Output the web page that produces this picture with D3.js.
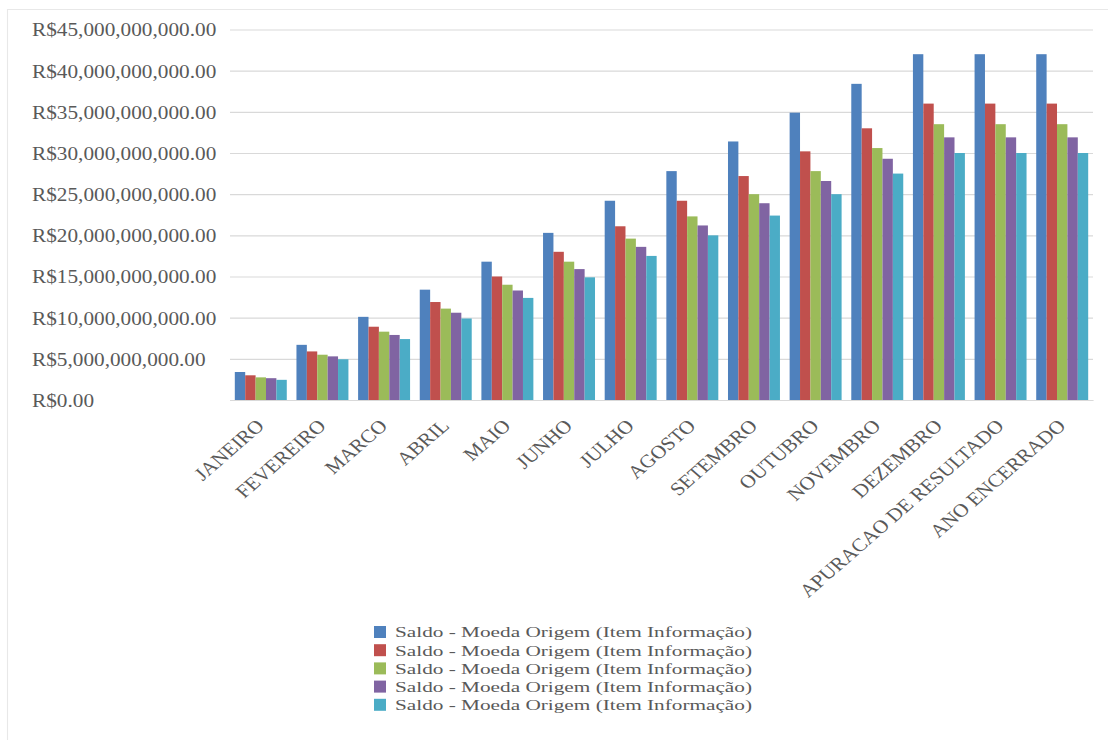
<!DOCTYPE html>
<html>
<head>
<meta charset="utf-8">
<script src="https://cdn.jsdelivr.net/npm/d3@7"></script>
<style>
  html, body { margin: 0; padding: 0; background: #ffffff; }
  svg { display: block; }
  text { font-family: "Liberation Serif", "Times New Roman", serif; fill: #595959; }
</style>
</head>
<body>
<svg id="chart"></svg>
<script>
// Month / closing-period categories
const categories = [
  "JANEIRO", "FEVEREIRO", "MARCO", "ABRIL", "MAIO", "JUNHO", "JULHO",
  "AGOSTO", "SETEMBRO", "OUTUBRO", "NOVEMBRO", "DEZEMBRO",
  "APURACAO DE RESULTADO", "ANO ENCERRADO"
];

// Balances in R$ billions, one array per series
const serie1 = [3.4, 6.7, 10.1, 13.4, 16.8, 20.3, 24.2, 27.8, 31.4, 34.9, 38.4, 42.0, 42.0, 42.0];
const serie2 = [3.0, 5.9, 8.9, 11.9, 15.0, 18.0, 21.1, 24.2, 27.2, 30.2, 33.0, 36.0, 36.0, 36.0];
const serie3 = [2.75, 5.5, 8.3, 11.1, 14.0, 16.8, 19.6, 22.3, 25.0, 27.8, 30.6, 33.5, 33.5, 33.5];
const serie4 = [2.65, 5.3, 7.9, 10.6, 13.3, 15.9, 18.6, 21.2, 23.9, 26.6, 29.3, 31.9, 31.9, 31.9];
const serie5 = [2.45, 4.95, 7.4, 9.9, 12.4, 14.9, 17.5, 20.0, 22.4, 25.0, 27.5, 30.0, 30.0, 30.0];

const seriesNames = [
  "Saldo - Moeda Origem (Item Informação)",
  "Saldo - Moeda Origem (Item Informação)",
  "Saldo - Moeda Origem (Item Informação)",
  "Saldo - Moeda Origem (Item Informação)",
  "Saldo - Moeda Origem (Item Informação)"
];
const seriesColors = ["#4f81bd", "#c0504d", "#9bbb59", "#8064a2", "#4bacc6"];

// Y axis tick values (R$)
const yTicks = [0, 5e9, 10e9, 15e9, 20e9, 25e9, 30e9, 35e9, 40e9, 45e9];

const allSeries = [serie1, serie2, serie3, serie4, serie5];

// The drawing is laid out in a horizontally compressed user space and
// stretched to the window width.
const SX = 1.15;
const VW = 1108 / SX, VH = 740;

const svg = d3.select("#chart")
  .attr("width", 1108).attr("height", 740)
  .attr("viewBox", `0 0 ${VW} ${VH}`)
  .attr("preserveAspectRatio", "none");

const plotLeft = 230 / SX, plotRight = 1093 / SX;
const plotTop = 29.5, plotBottom = 400;
const fontSize = 18.5;
const legendFont = 15.5;

// Light frame lines
svg.append("line").attr("x1", 7 / SX).attr("x2", VW).attr("y1", 9.5).attr("y2", 9.5)
  .attr("stroke", "#e8e8e8");
svg.append("line").attr("x1", 7.5 / SX).attr("x2", 7.5 / SX).attr("y1", 9).attr("y2", VH)
  .attr("stroke", "#e8e8e8");

const y = d3.scaleLinear().domain([0, 45e9]).range([plotBottom, plotTop]);
const x0 = d3.scaleBand().domain(categories).range([plotLeft, plotRight])
  .paddingInner(0.157).paddingOuter(0.078);
const x1 = d3.scaleBand().domain(d3.range(allSeries.length)).range([0, x0.bandwidth()]);

// Gridlines
const grid = svg.append("g").attr("transform", `translate(${plotLeft},0)`)
  .call(d3.axisLeft(y).tickValues(yTicks).tickSize(-(plotRight - plotLeft)).tickFormat(""));
grid.select(".domain").remove();
grid.selectAll("line").attr("stroke", "#d9d9d9").attr("stroke-width", 1.2);

// Y labels, left aligned
const fmt = d3.format(",.2f");
const yAxis = svg.append("g").attr("transform", `translate(${32 / SX},0)`)
  .call(d3.axisLeft(y).tickValues(yTicks).tickSize(0).tickFormat(d => "R$" + fmt(d)));
yAxis.select(".domain").remove();
yAxis.selectAll("text")
  .attr("x", 0).attr("dy", "0.35em")
  .attr("text-anchor", "start")
  .style("font-size", fontSize + "px")
  .style("font-family", "'Liberation Serif', 'Times New Roman', serif")
  .attr("fill", "#595959");

// Bars
const groups = svg.append("g").selectAll("g")
  .data(categories)
  .join("g")
  .attr("transform", c => `translate(${x0(c)},0)`);

groups.selectAll("rect")
  .data((c, i) => allSeries.map((s, k) => ({ k, v: s[i] * 1e9 })))
  .join("rect")
  .attr("x", d => x1(d.k))
  .attr("width", x1.bandwidth())
  .attr("y", d => y(d.v))
  .attr("height", d => y(0) - y(d.v))
  .attr("fill", d => seriesColors[d.k]);

// Category axis
const xAxis = svg.append("g").attr("transform", `translate(0,${plotBottom})`)
  .call(d3.axisBottom(x0).tickSize(0));
xAxis.select(".domain").attr("stroke", "#d9d9d9").attr("stroke-width", 1.2);
xAxis.selectAll("text")
  .attr("x", 0).attr("y", 0).attr("dy", 0)
  .attr("text-anchor", "end")
  .attr("transform", "translate(4,27) rotate(-45)")
  .style("font-size", fontSize + "px")
  .style("font-family", "'Liberation Serif', 'Times New Roman', serif")
  .attr("fill", "#595959");

// Legend
const legend = svg.append("g").attr("transform", `translate(${374 / SX},0)`);
const rows = legend.selectAll("g")
  .data(seriesNames)
  .join("g")
  .attr("transform", (d, i) => `translate(0,${632 + i * 18.2})`);
rows.append("rect")
  .attr("x", 0).attr("y", -6).attr("width", 12 / SX).attr("height", 12)
  .attr("fill", (d, i) => seriesColors[i]);
rows.append("text")
  .attr("x", 21 / SX).attr("y", 0).attr("dy", "0.35em")
  .attr("textLength", 357 / SX)
  .attr("lengthAdjust", "spacingAndGlyphs")
  .style("font-size", legendFont + "px")
  .text(d => d);
</script>
</body>
</html>
